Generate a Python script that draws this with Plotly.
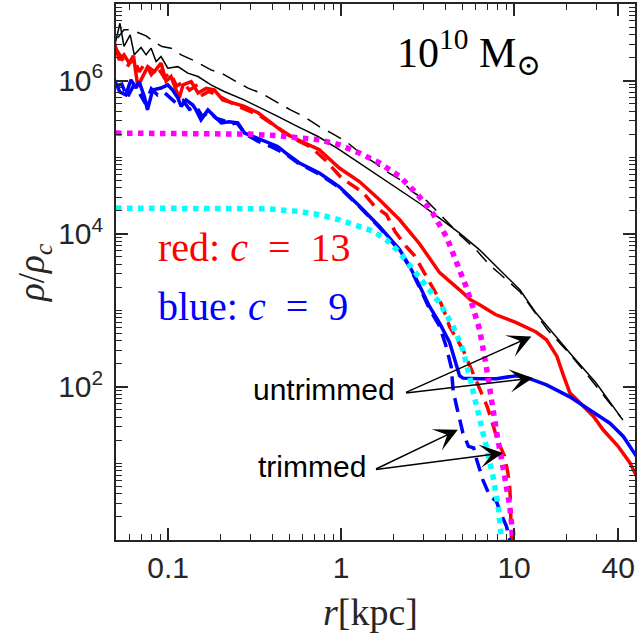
import numpy as np
import plotly.graph_objects as go

# ---------------- data ----------------
# black solid (total, c=13)
blk_r = [0.0493, 0.0527, 0.0556, 0.0604, 0.0638, 0.0698, 0.0746, 0.0798, 0.0853, 0.0911,
         0.0996, 0.114, 0.130, 0.149, 0.177, 0.211, 0.275, 0.331, 0.430, 0.562, 0.736,
         0.977, 1.276, 1.667, 2.18, 2.84, 3.71, 4.84, 6.32, 8.26, 10.8, 13.4, 16.1, 21.0,
         29.8, 41.3]
blk_rho = [2.93e6, 5.6e6, 2.8e6, 3.95e6, 2.17e6, 2.7e6, 2.17e6, 2.65e6, 1.77e6, 2.06e6,
           1.45e6, 1.52e6, 1.25e6, 1.13e6, 8.8e5, 7.2e5, 5.6e5, 4.58e5, 3.4e5, 2.5e5, 1.86e5,
           1.25e5, 8.4e4, 5.6e4, 3.74e4, 2.5e4, 1.6e4, 1.02e4, 6.16e3, 3.38e3, 1.85e3, 920,
           557, 277, 112, 40.6]

# black dashed
blkd_r = [0.0511, 0.0556, 0.061, 0.068, 0.0746, 0.083, 0.0923, 0.104, 0.119, 0.145, 0.177,
          0.203, 0.248, 0.29, 0.345, 0.422, 0.51, 0.61, 0.749, 0.88, 1.07, 1.33, 1.56, 1.83,
          2.25, 2.55, 3.12, 3.8, 4.84, 5.9, 7.22, 8.26, 10.8, 15.6, 21.0, 27.9, 32.7, 42.6]
blkd_rho = [3.6e6, 4.6e6, 4.6e6, 4.2e6, 3.84e6, 3.2e6, 2.78e6, 2.65e6, 2.17e6, 1.77e6, 1.38e6,
            1.25e6, 9.7e5, 7.96e5, 6.85e5, 5.3e5, 4.14e5, 3.4e5, 2.5e5, 2.06e5, 1.6e5, 1.07e5,
            8.5e4, 6.5e4, 4.9e4, 3.6e4, 2.7e4, 1.72e4, 9.7e3, 6.5e3, 3.9e3, 3.0e3, 1.75e3,
            557, 268, 124, 78, 37]

# red solid (untrimmed, c=13)
red_r = [0.049, 0.0522, 0.0556, 0.0597, 0.0636, 0.0668, 0.0763, 0.0834, 0.0911, 0.0974,
         0.104, 0.111, 0.116, 0.122, 0.136, 0.149, 0.166, 0.185, 0.207, 0.276, 0.331, 0.395,
         0.471, 0.563, 0.67, 0.749, 0.977, 1.276, 1.667, 2.18, 2.84, 3.71, 4.84, 5.6, 6.32,
         7.8, 10.3, 13.4, 15.4, 17.7, 19.3, 21.0, 24.0, 28.8, 32.7, 39.7, 46.7, 50.9]
red_rho = [3.1e6, 1.86e6, 2.17e6, 1.69e6, 1.86e6, 8.4e5, 1.52e6, 1.31e6, 1.69e6, 9.8e5,
           1.13e6, 7.56e5, 5.9e5, 8.8e5, 9.7e5, 6.9e5, 7.9e5, 7.56e5, 5.6e5, 4.6e5, 3.8e5,
           2.8e5, 2.06e5, 1.68e5, 1.38e5, 1.25e5, 7.2e4, 4.8e4, 2.77e4, 1.52e4, 7.4e3, 3.1e3,
           1.85e3, 1.37e3, 1.18e3, 880, 690, 520, 412, 250, 140, 84, 62, 41, 27.5, 17, 10.2, 6.9]

# red dashed (trimmed, c=13)
redd_r = [0.05, 0.054, 0.058, 0.063, 0.068, 0.074, 0.08, 0.087, 0.095, 0.103, 0.112, 0.122,
          0.133, 0.145, 0.158, 0.172, 0.19, 0.21, 0.24, 0.28, 0.33, 0.4, 0.47, 0.56, 0.67,
          0.81, 1.01, 1.17, 1.33, 1.56, 1.83, 2.05, 2.38, 2.67, 2.96, 3.37, 3.71, 3.97, 4.24,
          5.07, 6.32, 7.0, 7.7, 8.0, 8.8, 9.2, 9.43, 9.5, 9.65]
redd_rho = [2.6e6, 2.0e6, 1.5e6, 2.1e6, 1.3e6, 1.7e6, 1.2e6, 1.5e6, 1.1e6, 1.25e6, 8.5e5,
            9.5e5, 7.5e5, 8.6e5, 6.5e5, 7.2e5, 6.6e5, 5.8e5, 4.9e5, 4.2e5, 3.6e5, 2.7e5,
            2.1e5, 1.65e5, 1.35e5, 9.2e4, 5.3e4, 4.3e4, 3.5e4, 2.3e4, 1.77e4, 1.07e4, 6.8e3,
            5.1e3, 3.4e3, 2.0e3, 1.37e3, 930, 610, 305, 91.7, 55, 27.5, 20.4, 12.5, 7.6, 5.0,
            3.7, 1.0]

# blue solid (untrimmed, c=9)
blu_r = [0.049, 0.0526, 0.057, 0.061, 0.0653, 0.068, 0.0729, 0.076, 0.0815, 0.0911, 0.0996,
         0.106, 0.114, 0.119, 0.127, 0.139, 0.145, 0.155, 0.17, 0.185, 0.203, 0.225, 0.253,
         0.277, 0.345, 0.43, 0.48, 0.574, 0.749, 0.977, 1.276, 1.667, 2.18, 2.5, 2.84, 3.24,
         3.71, 4.24, 4.84, 5.06, 6.32, 7.9, 10.3, 12.3, 15.4, 21.0, 27.4, 35.8, 42.8, 51.0]
blu_rho = [1.02e6, 7.1e5, 6.5e5, 1.02e6, 8.0e5, 9.7e5, 6.2e5, 4.14e5, 7.56e5, 8.0e5, 8.8e5,
           7.56e5, 5.9e5, 4.6e5, 5.6e5, 4.8e5, 4.14e5, 3.07e5, 4.14e5, 3.4e5, 2.8e5, 2.9e5,
           2.8e5, 2.06e5, 1.68e5, 1.38e5, 1.13e5, 8.4e4, 6.2e4, 4.1e4, 2.3e4, 1.24e4, 6.2e3,
           3.7e3, 2.1e3, 1.13e3, 680, 380, 140, 130, 128, 128, 140, 128, 106, 74, 50, 33.5,
           22.5, 12.4]

# blue dashed (trimmed, c=9)
blud_r = [0.05, 0.054, 0.058, 0.063, 0.068, 0.074, 0.08, 0.087, 0.095, 0.103, 0.112, 0.122,
          0.133, 0.145, 0.158, 0.172, 0.19, 0.21, 0.23, 0.25, 0.28, 0.33, 0.4, 0.48, 0.57,
          0.75, 0.98, 1.28, 1.67, 2.18, 2.5, 2.84, 3.24, 3.71, 4.06, 4.33, 4.45, 4.66, 5.06,
          5.45, 5.84, 6.08, 6.6, 7.22, 7.9, 8.4, 9.05, 9.43]
blud_rho = [8.5e5, 9.0e5, 6.0e5, 8.5e5, 7.0e5, 5.0e5, 7.8e5, 6.5e5, 7.0e5, 6.0e5, 5.0e5,
            5.5e5, 4.2e5, 4.6e5, 3.4e5, 3.9e5, 3.2e5, 3.0e5, 2.7e5, 2.8e5, 2.0e5, 1.62e5,
            1.35e5, 1.1e5, 8.2e4, 6.0e4, 4.0e4, 2.25e4, 1.2e4, 6.0e3, 3.6e3, 2.0e3, 1.05e3,
            620, 330, 183, 87, 55, 25, 16.7, 16, 11.2, 6.1, 3.8, 3.2, 2.2, 1.5, 1.0]

# magenta dotted (cored profile)
mag_r = [0.05, 0.15, 0.294, 0.439, 0.574, 0.749, 0.977, 1.276, 1.667, 2.18, 2.72, 3.38, 4.06,
         4.62, 5.27, 5.78, 6.32, 6.9, 7.35, 8.0, 8.75, 9.43, 9.8, 9.9]
mag_rho = [2.06e5, 2.06e5, 2.0e5, 1.9e5, 1.78e5, 1.68e5, 1.45e5, 1.13e5, 8.4e4, 5.6e4, 3.4e4,
           1.86e4, 9.2e3, 4.6e3, 2.06e3, 1.1e3, 557, 187, 68, 22.5, 7.5, 2.8, 1.25, 1.0]

# cyan dotted (cored profile)
cyn_r = [0.05, 0.15, 0.37, 0.574, 0.749, 0.977, 1.276, 1.53, 1.83, 2.18, 2.61, 3.1, 3.71, 4.45,
         5.06, 5.53, 6.32, 6.9, 7.55, 8.1, 8.4, 8.5]
cyn_rho = [2.16e4, 2.16e4, 2.12e4, 1.95e4, 1.77e4, 1.52e4, 1.25e4, 1.08e4, 8.3e3, 5.7e3,
           3.4e3, 2.06e3, 1.25e3, 610, 305, 136, 41, 16.7, 6.8, 2.7, 1.23, 1.0]

x_tickvals = [0.1, 1, 10, 40]
x_ticktext = ["0.1", "1", "10", "40"]
y_tickvals = [1e2, 1e4, 1e6]
y_ticktext = ["10<sup>2</sup>", "10<sup>4</sup>", "10<sup>6</sup>"]

# ---------------- figure ----------------
AX = "#262626"
SANS = "Liberation Sans, Arial, Helvetica, sans-serif"
SERIF = "Liberation Serif, Times New Roman, DejaVu Serif, serif"

fig = go.Figure()

def add(x, y, color, width, dash="solid"):
    fig.add_trace(go.Scatter(x=x, y=y, mode="lines",
                             line=dict(color=color, width=width, dash=dash),
                             hoverinfo="skip"))

add(blk_r, blk_rho, "black", 1.5)
add(blkd_r, blkd_rho, "black", 1.5, "15px,9px")
add(red_r, red_rho, "#ff0000", 3.5)
add(redd_r, redd_rho, "#ff0000", 3.5, "14px,8px")
add(blu_r, blu_rho, "#0000ff", 3.5)
add(blud_r, blud_rho, "#0000ff", 3.5, "14px,8px")
add(mag_r, mag_rho, "#ff00ff", 5.5, "dot")
add(cyn_r, cyn_rho, "#00ffff", 5.5, "dot")

xminor = [v * d for d in (0.01, 0.1, 1, 10) for v in range(2, 10)]
yminor = [v * 10.0 ** e for e in range(0, 7) for v in range(1, 10)]

common = dict(ticks="inside", ticklen=12, tickwidth=1.5, tickcolor=AX,
              showline=True, linecolor=AX, linewidth=1.5, mirror="allticks",
              showgrid=False, zeroline=False, automargin=False,
              tickfont=dict(family=SANS, size=30, color=AX))

fig.update_xaxes(type="log", range=[np.log10(0.05), np.log10(50)],
                 tickmode="array", tickvals=x_tickvals, ticktext=x_ticktext,
                 minor=dict(tickmode="array", tickvals=xminor, ticks="inside",
                            ticklen=6, tickwidth=1.2, tickcolor=AX, showgrid=False),
                 **common)
fig.update_yaxes(type="log", range=[0, 7],
                 tickmode="array", tickvals=y_tickvals, ticktext=y_ticktext,
                 ticklabelstandoff=5,
                 minor=dict(tickmode="array", tickvals=yminor, ticks="inside",
                            ticklen=6, tickwidth=1.2, tickcolor=AX, showgrid=False),
                 **common)

ann = []
# axis titles
ann.append(dict(xref="paper", yref="paper", x=-0.158, y=0.5, textangle=-90,
                text="<i>ρ</i>/<i>ρ</i><sub><i>c</i></sub>", showarrow=False,
                font=dict(family=SERIF, size=37, color=AX), xanchor="center", yanchor="middle"))
ann.append(dict(xref="paper", yref="paper", x=0.49, y=-0.135,
                text="<i>r</i>[kpc]", showarrow=False,
                font=dict(family=SERIF, size=38, color=AX), xanchor="center", yanchor="middle"))
# labels
ann.append(dict(xref="paper", yref="paper", x=0.68, y=0.91,
                text="10<sup>10</sup> M<sub>⊙</sub>", showarrow=False,
                font=dict(family=SERIF, size=42, color="black"), xanchor="center", yanchor="middle"))
ann.append(dict(xref="paper", yref="paper", x=0.078, y=0.545,
                text="red:&nbsp;<i>c</i>&nbsp;&nbsp;=&nbsp;&nbsp;13", showarrow=False,
                font=dict(family=SERIF, size=40, color="#ff0000"), xanchor="left", yanchor="middle"))
ann.append(dict(xref="paper", yref="paper", x=0.078, y=0.435,
                text="blue:&nbsp;<i>c</i>&nbsp;&nbsp;=&nbsp;&nbsp;9", showarrow=False,
                font=dict(family=SERIF, size=40, color="#0000ff"), xanchor="left", yanchor="middle"))
ann.append(dict(xref="paper", yref="paper", x=0.40, y=0.28,
                text="untrimmed", showarrow=False,
                font=dict(family=SANS, size=30, color="black"), xanchor="center", yanchor="middle"))
ann.append(dict(xref="paper", yref="paper", x=0.377, y=0.138,
                text="trimmed", showarrow=False,
                font=dict(family=SANS, size=30, color="black"), xanchor="center", yanchor="middle"))

# arrows (log10 coordinates on both axes)
arrows = [((0.3665, 1.919), (1.100, 2.658)),
          ((0.3665, 1.919), (1.109, 2.115)),
          ((0.193, 0.918), (0.675, 1.440)),
          ((0.193, 0.918), (0.936, 1.136))]
for (sx, sy), (tx, ty) in arrows:
    ann.append(dict(xref="x", yref="y", axref="x", ayref="y", x=tx, y=ty, ax=sx, ay=sy,
                    text="", showarrow=True, arrowhead=3, arrowsize=2.6, arrowwidth=1.5,
                    arrowcolor="black", standoff=0, startstandoff=0))

fig.update_layout(width=639, height=634, margin=dict(l=116, r=4, t=4, b=94),
                  plot_bgcolor="white", paper_bgcolor="white", showlegend=False,
                  annotations=ann)

fig.write_html("out.html", config={"displayModeBar": False},
               post_script="document.body.style.margin='0';document.body.style.padding='0';"
                           "document.body.style.overflow='hidden';")
